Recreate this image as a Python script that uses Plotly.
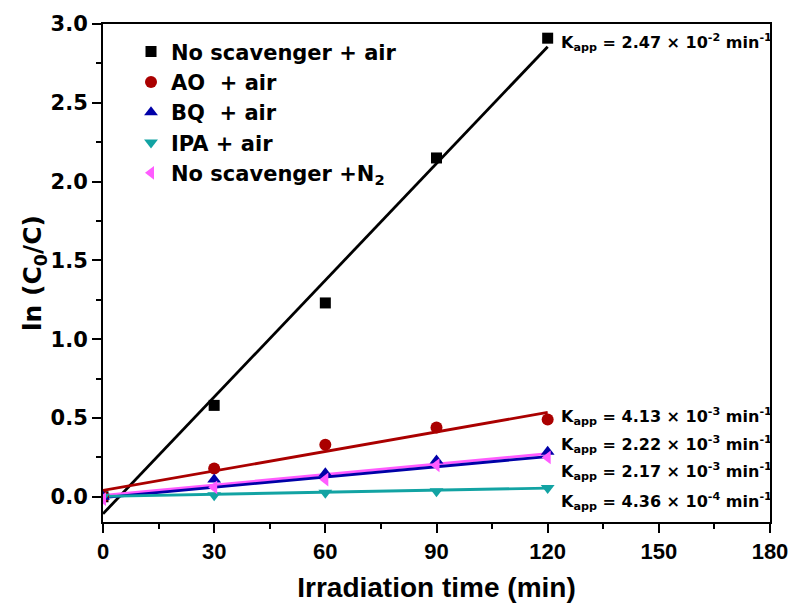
import plotly.graph_objects as go

# ---- data ----
time_min = [0, 30, 60, 90, 120]
series_names = ["No scavenger + air", "AO  + air", "BQ  + air", "IPA + air", "No scavenger +N<sub>2</sub>"]
no_scav_air = [0.0, 0.58, 1.23, 2.15, 2.91]
ao_air = [0.0, 0.18, 0.33, 0.44, 0.49]
bq_air = [0.0, 0.11, 0.15, 0.23, 0.285]
ipa_air = [0.0, 0.01, 0.025, 0.035, 0.055]
no_scav_n2 = [-0.015, 0.06, 0.11, 0.20, 0.25]
fit_slopes = [0.0247, 0.00413, 0.00217, 0.000436, 0.00222]
fit_intercepts = [-0.108, 0.04, -0.005, 0.003, 0.008]
fit_range = [0, 120]
k_labels = [
    "K<sub>app</sub> = 2.47 × 10<sup>-2</sup> min<sup>-1</sup>",
    "K<sub>app</sub> = 4.13 × 10<sup>-3</sup> min<sup>-1</sup>",
    "K<sub>app</sub> = 2.22 × 10<sup>-3</sup> min<sup>-1</sup>",
    "K<sub>app</sub> = 2.17 × 10<sup>-3</sup> min<sup>-1</sup>",
    "K<sub>app</sub> = 4.36 × 10<sup>-4</sup> min<sup>-1</sup>",
]
k_label_y = [2.88, 0.51, 0.33, 0.16, -0.03]

# ---- styles ----
colors = ["#000000", "#AA0000", "#0000A8", "#12A3A3", "#FF5CFF"]
symbols = ["square", "circle", "triangle-up", "triangle-down", "triangle-left"]
sizes = [11, 12, 12, 12, 12]
values = [no_scav_air, ao_air, bq_air, ipa_air, no_scav_n2]
line_order = [0, 1, 4, 2, 3]
WIDE = "DejaVu Sans"
ARIAL = "Liberation Sans, Arial"

fig = go.Figure()
for i in line_order:
    xs = fit_range
    ys = [fit_intercepts[i] + fit_slopes[i] * x for x in xs]
    fig.add_trace(go.Scatter(x=xs, y=ys, mode="lines", line=dict(color=colors[i], width=2.8),
                             showlegend=False, hoverinfo="skip"))
for i in range(5):
    fig.add_trace(go.Scatter(x=time_min, y=values[i], mode="markers", name=series_names[i],
                             marker=dict(color=colors[i], symbol=symbols[i], size=sizes[i])))

for txt, yv in zip(k_labels, k_label_y):
    fig.add_annotation(x=123, y=yv, text=txt, showarrow=False, xanchor="left", yanchor="middle",
                       font=dict(family=WIDE, size=16, color="black", weight="bold"))

axis_common = dict(showline=True, linecolor="black", linewidth=2, mirror=True, ticks="outside",
                   ticklen=9, tickwidth=2, tickcolor="black", showgrid=False, zeroline=False,
                   automargin=False)

fig.update_xaxes(range=[0, 180], dtick=30, tick0=0,
                 tickfont=dict(family=ARIAL, size=22, color="black", weight="bold"),
                 minor=dict(dtick=15, ticks="outside", ticklen=5, tickwidth=2, tickcolor="black"),
                 title=dict(text="Irradiation time (min)", standoff=14,
                            font=dict(family=ARIAL, size=28, color="black", weight="bold")),
                 **axis_common)
fig.update_yaxes(range=[-0.16, 3.0], dtick=0.5, tick0=0, tickformat=".1f",
                 tickfont=dict(family=WIDE, size=21, color="black", weight="bold"),
                 minor=dict(dtick=0.25, ticks="outside", ticklen=5, tickwidth=2, tickcolor="black"),
                 title=dict(text="ln (C<sub>0</sub>/C)", standoff=0,
                            font=dict(family=WIDE, size=25, color="black", weight="bold")),
                 **axis_common)

fig.update_layout(
    width=794, height=607,
    margin=dict(l=103, r=24, t=24, b=85, autoexpand=False),
    plot_bgcolor="white", paper_bgcolor="white",
    font=dict(family=ARIAL, color="black"),
    legend=dict(x=0.042, y=0.985, xanchor="left", yanchor="top", bgcolor="rgba(0,0,0,0)",
                font=dict(family=WIDE, size=21, color="black", weight="bold"),
                tracegroupgap=0, itemwidth=30),
)

fig.write_html("out.html")
